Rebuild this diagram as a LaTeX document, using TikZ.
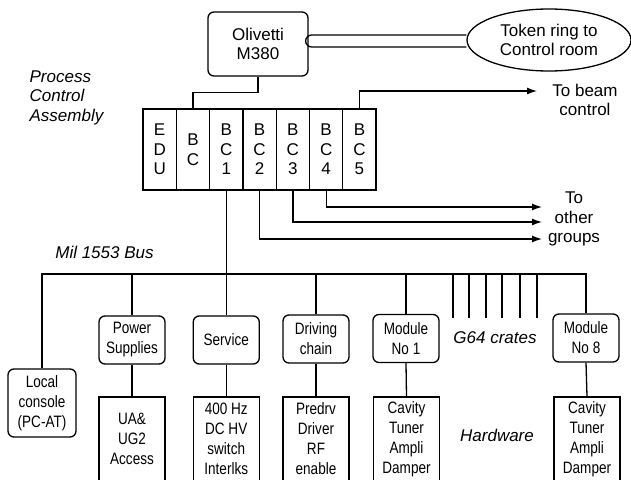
\documentclass[tikz,border=0pt]{standalone}
\usepackage{fontspec}
\setmainfont{Liberation Sans}
\newfontfamily\narrowsf[FakeStretch=0.82]{Liberation Sans}
\usetikzlibrary{arrows.meta,positioning,shapes.geometric}

\begin{document}
\begin{tikzpicture}[x=1pt,y=-1pt,>=Latex,line width=1.3pt,
  every node/.style={inner sep=1pt,font=\fontsize{17}{19.5}\selectfont},
  note/.style={align=center},
  slanted/.style={align=left,font=\fontsize{17}{19.5}\selectfont\itshape},
  cell/.style={draw,minimum width=33.3,minimum height=81,inner sep=0pt,align=center},
  unit/.style={draw,rounded corners=6pt,minimum width=66,minimum height=48,align=center,font=\narrowsf\fontsize{16.5}{20}\selectfont},
  hw/.style={draw,minimum width=66,minimum height=84,align=center,font=\narrowsf\fontsize{16.5}{20}\selectfont},
  arr/.style={-{Latex[length=10pt,width=7pt]}}]
\useasboundingbox (0,0) rectangle (631,479);
\clip (0,0) rectangle (631,479);
\node[draw,rounded corners=6pt,minimum width=100,minimum height=64,align=center] (oli) at (258,44) {Olivetti\\M380};
\node[draw,ellipse,minimum width=164,minimum height=62,align=center,inner sep=0pt] (ring) at (549,40) {Token ring to\\Control room};
\draw ([yshift=5pt]ring.west) -- ([xshift=3pt,yshift=9pt]oli.east) arc[start angle=90,end angle=270,radius=6pt] -- ([yshift=-7pt]ring.west);
\node[slanted,anchor=west] (pca) at (28,97.5) {Process\\Control\\Assembly};
\node[cell] (edu) at (159.65,149.5) {E\\D\\U};
\node[cell] (bc) at (192.95,149.5) {B\\C};
\node[cell] (bc1) at (226.25,149.5) {B\\C\\1};
\node[cell] (bc2) at (259.55,149.5) {B\\C\\2};
\node[cell] (bc3) at (292.85,149.5) {B\\C\\3};
\node[cell] (bc4) at (326.15,149.5) {B\\C\\4};
\node[cell] (bc5) at (359.45,149.5) {B\\C\\5};
\draw (oli.south) -- ++(0,16) -| (bc.north);
\coordinate (beamend) at (537,91);
\draw[arr] (bc5.north) |- (beamend);
\node[note] (beam) at (585,100) {To beam\\control};
\coordinate (og4) at (542,207);
\coordinate (og3) at (542,222);
\coordinate (og2) at (542,239);
\draw[arr] (bc4.south) |- (og4);
\draw[arr] (bc3.south) |- (og3);
\draw[arr] (bc2.south) |- (og2);
\node[note] (groups) at (574,219) {To\\other\\groups};
\node[slanted] (buslabel) at (104.5,252) {Mil 1553 Bus};
\coordinate (bus) at (0,274);
\node[unit,minimum width=68,minimum height=68] (console) at (42,403) {Local\\console\\(PC-AT)};
\node[unit] (pwr) at (132,340) {Power\\Supplies};
\node[unit] (svc) at (226.25,340) {Service};
\node[unit] (drv) at (316,339) {Driving\\chain};
\node[unit] (mod1) at (406,338.5) {Module\\No 1};
\node[unit] (mod8) at (586,338) {Module\\No 8};
\draw (console.north) |- (bus -| mod8.north) -- (mod8.north);
\draw (pwr.north) -- (pwr.north |- bus);
\draw (bc1.south) -- (svc.north);
\draw (drv.north) -- (drv.north |- bus);
\draw (mod1.north) -- (mod1.north |- bus);
\foreach \gx [count=\i] in {453,469,486,502,520,537} {
  \coordinate (g\i) at (\gx,318);
  \draw (g\i |- bus) -- (g\i);
}
\node[slanted] (crates) at (495,338) {G64 crates};
\node[hw] (ua) at (132,439) {UA\&\\UG2\\Access};
\node[hw] (sw) at (226.25,439) {400 Hz\\DC HV\\switch\\Interlks};
\node[hw] (pre) at (316,439) {Predrv\\Driver\\RF\\enable};
\node[hw] (cav1) at (406.5,439) {Cavity\\Tuner\\Ampli\\Damper};
\node[hw] (cav8) at (587,439) {Cavity\\Tuner\\Ampli\\Damper};
\draw (pwr.south) -- (ua.north);
\draw (svc.south) -- (sw.north);
\draw (drv.south) -- (pre.north);
\draw (mod1.south) -- (cav1.north);
\draw (mod8.south) -- (cav8.north);
\node[slanted] (hwlabel) at (497,435) {Hardware};
\end{tikzpicture}
\end{document}
